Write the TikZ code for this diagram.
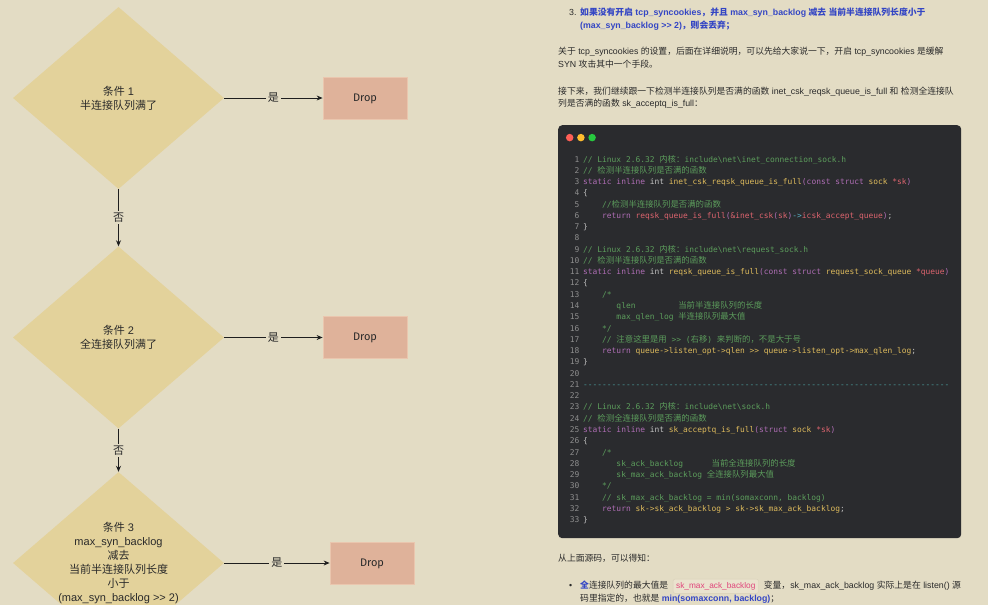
\documentclass[tikz,border=0pt]{standalone}
\usepackage{fontspec}
\setmainfont{Liberation Sans}
\setmonofont{DejaVu Sans Mono}
\newfontfamily\cjkf{Noto Sans CJK SC}
\newfontfamily\dropf{Fira Sans}
\usetikzlibrary{shapes.geometric,arrows.meta}

\definecolor{bg}{HTML}{E3DCC4}
\definecolor{diafill}{HTML}{E3D29B}
\definecolor{dropfill}{HTML}{DFB29A}
\definecolor{dropline}{HTML}{EAC6AE}
\definecolor{ink}{HTML}{2A2A2A}
\definecolor{linedark}{HTML}{1E1E1E}
\definecolor{hblue}{HTML}{3446C4}
\definecolor{codebg}{HTML}{2A2B2E}
\definecolor{lnum}{HTML}{8E8E8E}
\definecolor{ccm}{HTML}{5C9D5C}
\definecolor{ckw}{HTML}{AE6DB4}
\definecolor{cty}{HTML}{C4C4C4}
\definecolor{cfn}{HTML}{DDBA5C}
\definecolor{cvr}{HTML}{DC646E}
\definecolor{cop}{HTML}{5AB4C8}
\definecolor{cpl}{HTML}{BDBDBD}
\definecolor{cds}{HTML}{4A9A9A}
\definecolor{icfill}{HTML}{EAE3CE}
\definecolor{icline}{HTML}{D9D1B9}
\definecolor{ictext}{HTML}{E0457B}
\definecolor{tlred}{HTML}{FF5F56}
\definecolor{tlyel}{HTML}{FFBD2E}
\definecolor{tlgrn}{HTML}{27C93F}

\newcommand\Han[1]{{\cjkf #1}}
\newcommand\Zh[1]{{\cjkf\fontsize{8.4}{10}\selectfont #1}}
\newlength\cw \setlength\cw{4.756pt}
\newcommand\Ind[1]{\hspace*{#1\cw}}
\newcommand\Kw[1]{\textcolor{ckw}{#1}}
\newcommand\Ty[1]{\textcolor{cty}{#1}}
\newcommand\Fn[1]{\textcolor{cfn}{#1}}
\newcommand\Vr[1]{\textcolor{cvr}{#1}}
\newcommand\Op[1]{\textcolor{cop}{#1}}
\newcommand\Pl[1]{\textcolor{cpl}{#1}}
\newcommand\Cm[1]{\textcolor{ccm}{#1}}
\newcommand\Ds[1]{\textcolor{cds}{#1}}
\ExplSyntaxOn
\NewDocumentCommand\Rep{mm}{\prg_replicate:nn{#1}{#2}}
\ExplSyntaxOff
\newcommand\codefont{\ttfamily\fontsize{7.9}{10}\selectfont}
\newcommand\bodyfont{\fontsize{8.8}{12}\selectfont}
\newcommand\CodeLine[2]{\node[cl] (L#1) at (583,{162+(#1-1)*11.27}) {#2};}

\tikzset{
  dia/.style={diamond, fill=diafill, draw=none, minimum width=211pt, minimum height=182pt, inner sep=0pt},
  dtext/.style={align=center, text=ink, font=\fontsize{11}{14}\selectfont, inner sep=0pt},
  dropbox/.style={rectangle, fill=dropfill, draw=dropline, line width=0.8pt, minimum width=84pt, minimum height=42pt, text height=6pt, text depth=0pt, text=ink, font=\dropf\fontsize{11}{13}\selectfont},
  arr/.style={draw=linedark, line width=0.8pt, -{Stealth[length=6pt,width=5pt]}},
  lbl/.style={fill=bg, inner sep=2pt, text=ink, font=\fontsize{11}{13}\selectfont},
  ln/.style={anchor=base east, inner sep=0pt, text=lnum, font=\codefont},
  cl/.style={anchor=base west, inner sep=0pt, text=cpl, font=\codefont},
  txt/.style={anchor=base west, inner sep=0pt, text=ink, font=\bodyfont},
  btxt/.style={txt, text=hblue, font=\bodyfont\bfseries},
  icode/.style={anchor=base west, fill=icfill, draw=icline, line width=0.4pt, rounded corners=2pt, inner xsep=3pt, inner ysep=3pt, text height=6.2pt, text depth=2pt, text=ictext, font=\fontsize{8.3}{10}\selectfont},
  light/.style={circle, inner sep=0pt, minimum size=7.5pt, draw=none}
}

\begin{document}
\begin{tikzpicture}[x=1pt,y=-1pt]
\useasboundingbox (0,0) rectangle (988,605);
\begin{scope}
\clip (0,0) rectangle (988,605);
\fill[bg] (0,0) rectangle (988,605);

% ---------- flow chart ----------
\node[dia] (c1) at (118.5,98) {};
\node[dtext] (c1t) at (c1) {\Han{条件} 1\\\Han{半连接队列满了}};
\node[dropbox] (d1) at (365,98) {Drop};
\draw[arr] (c1.east) -- node[lbl] (y1) {\Han{是}} (d1.west);

\node[dia] (c2) at (118.5,337.5) {};
\node[dtext] (c2t) at (c2) {\Han{条件} 2\\\Han{全连接队列满了}};
\node[dropbox] (d2) at (365,337.5) {Drop};
\draw[arr] (c1.south) -- node[lbl] (n1) {\Han{否}} (c2.north);
\draw[arr] (c2.east) -- node[lbl] (y2) {\Han{是}} (d2.west);

\node[dia] (c3) at (118.5,563) {};
\node[dtext] (c3t) at (c3) {\Han{条件} 3\\max\_syn\_backlog\\\Han{减去}\\\Han{当前半连接队列长度}\\\Han{小于}\\(max\_syn\_backlog >{}> 2)};
\node[dropbox] (d3) at (372,563) {Drop};
\draw[arr] (c2.south) -- node[lbl] (n2) {\Han{否}} (c3.north);
\draw[arr] (c3.east) -- node[lbl] (y3) {\Han{是}} (d3.west);

% ---------- text above code ----------
\node[txt] (t3) at (569,15.6) {3.};
\node[btxt] (t1a) at (580,15.6) {\Han{如果没有开启} tcp\_syncookies\Han{，并且} max\_syn\_backlog \Han{减去} \Han{当前半连接队列长度小于}};
\node[btxt] (t1b) at (580,28.3) {(max\_syn\_backlog >{}> 2)\Han{，则会丢弃；}};
\node[txt] (p1a) at (558,54.6) {\Han{关于} tcp\_syncookies \Han{的设置，后面在详细说明，可以先给大家说一下，开启} tcp\_syncookies \Han{是缓解}};
\node[txt] (p1b) at (558,67.3) {SYN \Han{攻击其中一个手段。}};
\node[txt] (p2a) at (558,94) {\Han{接下来，我们继续跟一下检测半连接队列是否满的函数} inet\_csk\_reqsk\_queue\_is\_full \Han{和} \Han{检测全连接队}};
\node[txt] (p2b) at (558,106.6) {\Han{列是否满的函数} sk\_acceptq\_is\_full\Han{：}};

% ---------- code block ----------
\node[fill=codebg, draw=none, rounded corners=4pt, minimum width=403pt, minimum height=413pt, anchor=north west, inner sep=0pt] (cb) at (558,125) {};
\node[light, fill=tlred] (tr) at (569.7,137.6) {};
\node[light, fill=tlyel] (ty) at (580.9,137.6) {};
\node[light, fill=tlgrn] (tg) at (592.1,137.6) {};

\foreach \i in {1,...,33} \node[ln] (N\i) at (579.5,{162+(\i-1)*11.27}) {\i};

\CodeLine{1}{\Cm{// Linux 2.6.32 \Zh{内核：}include\textbackslash net\textbackslash inet\_connection\_sock.h}}
\CodeLine{2}{\Cm{// \Zh{检测半连接队列是否满的函数}}}
\CodeLine{3}{\Kw{static inline} \Ty{int} \Fn{inet\_csk\_reqsk\_queue\_is\_full}\Kw{(const struct} \Fn{sock} \Vr{*sk}\Kw{)}}
\CodeLine{4}{\Pl{\{}}
\CodeLine{5}{\Ind{4}\Cm{//\Zh{检测半连接队列是否满的函数}}}
\CodeLine{6}{\Ind{4}\Kw{return} \Vr{reqsk\_queue\_is\_full}\Kw{(}\Vr{\&inet\_csk}\Kw{(}\Vr{sk}\Kw{)}\Op{->}\Vr{icsk\_accept\_queue}\Kw{)}\Pl{;}}
\CodeLine{7}{\Pl{\}}}
\CodeLine{9}{\Cm{// Linux 2.6.32 \Zh{内核：}include\textbackslash net\textbackslash request\_sock.h}}
\CodeLine{10}{\Cm{// \Zh{检测半连接队列是否满的函数}}}
\CodeLine{11}{\Kw{static inline} \Ty{int} \Fn{reqsk\_queue\_is\_full}\Kw{(const struct} \Fn{request\_sock\_queue} \Vr{*queue}\Kw{)}}
\CodeLine{12}{\Pl{\{}}
\CodeLine{13}{\Ind{4}\Cm{/*}}
\CodeLine{14}{\Ind{7}\Cm{qlen\Ind{9}\Zh{当前半连接队列的长度}}}
\CodeLine{15}{\Ind{7}\Cm{max\_qlen\_log \Zh{半连接队列最大值}}}
\CodeLine{16}{\Ind{4}\Cm{*/}}
\CodeLine{17}{\Ind{4}\Cm{// \Zh{注意这里是用} >{}> (\Zh{右移}) \Zh{来判断的，不是大于号}}}
\CodeLine{18}{\Ind{4}\Kw{return} \Fn{queue->listen\_opt->qlen >{}> queue->listen\_opt->max\_qlen\_log}\Pl{;}}
\CodeLine{19}{\Pl{\}}}
\CodeLine{21}{\Ds{\Rep{77}{-{}}}}
\CodeLine{23}{\Cm{// Linux 2.6.32 \Zh{内核：}include\textbackslash net\textbackslash sock.h}}
\CodeLine{24}{\Cm{// \Zh{检测全连接队列是否满的函数}}}
\CodeLine{25}{\Kw{static inline} \Ty{int} \Fn{sk\_acceptq\_is\_full}\Kw{(struct} \Fn{sock} \Vr{*sk}\Kw{)}}
\CodeLine{26}{\Pl{\{}}
\CodeLine{27}{\Ind{4}\Cm{/*}}
\CodeLine{28}{\Ind{7}\Cm{sk\_ack\_backlog\Ind{6}\Zh{当前全连接队列的长度}}}
\CodeLine{29}{\Ind{7}\Cm{sk\_max\_ack\_backlog \Zh{全连接队列最大值}}}
\CodeLine{30}{\Ind{4}\Cm{*/}}
\CodeLine{31}{\Ind{4}\Cm{// sk\_max\_ack\_backlog = min(somaxconn, backlog)}}
\CodeLine{32}{\Ind{4}\Kw{return} \Fn{sk->sk\_ack\_backlog > sk->sk\_max\_ack\_backlog}\Pl{;}}
\CodeLine{33}{\Pl{\}}}

% ---------- text below code ----------
\node[txt] (s1) at (558,561.6) {\Han{从上面源码，可以得知：}};
\node[txt] (bu) at (568.8,588.3) {•};
\node[txt] (b1) at (580,588.3) {{\color{hblue}\bfseries\Han{全}}\Han{连接队列的最大值是}};
\node[icode] (ic) at ([xshift=4.5pt]b1.base east) {sk\_max\_ack\_backlog};
\node[txt] (b2) at ([xshift=5pt]ic.base east) {\Han{变量，}sk\_max\_ack\_backlog \Han{实际上是在} listen() \Han{源}};
\node[txt] (b3) at (580,601.3) {\Han{码里指定的，也就是} {\color{hblue}\bfseries min(somaxconn, backlog)}\Han{；}};
\end{scope}
\end{tikzpicture}
\end{document}
